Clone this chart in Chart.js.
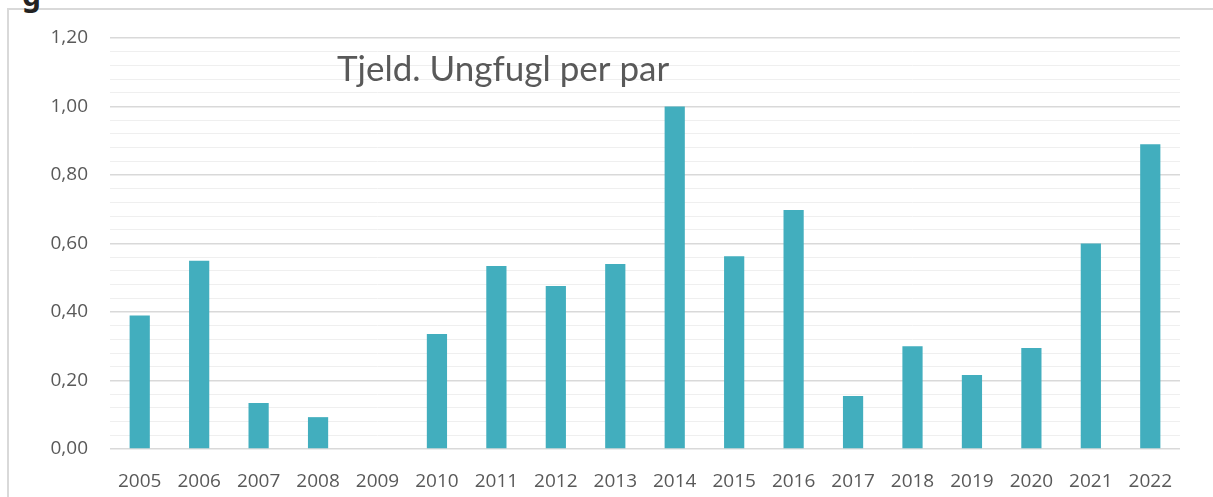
<!DOCTYPE html>
<html>
<head>
<meta charset="utf-8">
<script src="https://cdn.jsdelivr.net/npm/chart.js@4"></script>
<style>
  html, body { margin: 0; padding: 0; background: #fff; }
  #frame { position: absolute; left: 7px; top: 8px; width: 1220px; height: 500px;
           border-left: 2px solid #d9d9d9; border-top: 2px solid #d9d9d9; }
  #cut { position: absolute; left: 22px; top: -26px; font: bold 30px "Noto Sans", sans-serif; color: #222; }
  #wrap { position: absolute; left: 0; top: 0; width: 1213px; height: 497px; }
</style>
</head>
<body>
<div id="frame"></div>
<div id="cut">g</div>
<div id="wrap"><canvas id="myChart"></canvas></div>
<script>
const years = ['2005','2006','2007','2008','2009','2010','2011','2012','2013','2014','2015','2016','2017','2018','2019','2020','2021','2022'];
const ungfugl = [0.39, 0.55, 0.134, 0.093, 0, 0.336, 0.534, 0.476, 0.54, 1.00, 0.563, 0.698, 0.155, 0.30, 0.216, 0.295, 0.60, 0.89];
const chartTitle = 'Tjeld. Ungfugl per par';

function isMajor(v) {
    return Math.round(v * 100) % 20 === 0;
}

const titlePlugin = {
    id: 'innerTitle',
    afterDatasetsDraw(chart) {
        const c = chart.ctx;
        c.save();
        c.font = '35px Lato, "Open Sans", sans-serif';
        c.fillStyle = '#595959';
        c.textBaseline = 'middle';
        c.fillText(chartTitle, 337, 70);
        c.restore();
    }
};

const tickFont = { family: '"Open Sans", sans-serif', size: 19 };

const ctx = document.getElementById('myChart');
new Chart(ctx, {
    type: 'bar',
    data: {
        labels: years,
        datasets: [{
            data: ungfugl,
            backgroundColor: '#42aebe',
            barPercentage: 0.34,
            categoryPercentage: 1
        }]
    },
    plugins: [titlePlugin],
    options: {
        responsive: true,
        maintainAspectRatio: false,
        animation: false,
        layout: { padding: { top: 38, right: 33, left: 0, bottom: 0 } },
        plugins: { legend: { display: false }, tooltip: { enabled: false } },
        scales: {
            x: {
                grid: { display: false, drawTicks: false },
                border: { display: false },
                ticks: { color: '#595959', font: tickFont, padding: 21, maxRotation: 0 },
                afterFit(axis) { axis.height = 48; }
            },
            y: {
                min: 0,
                max: 1.2,
                grid: {
                    drawTicks: false,
                    color: (c) => isMajor(c.tick.value) ? '#d9d9d9' : '#efefef',
                    lineWidth: (c) => isMajor(c.tick.value) ? 1.5 : 1
                },
                border: { display: false },
                ticks: {
                    stepSize: 0.04,
                    autoSkip: false,
                    padding: 22,
                    color: '#595959',
                    font: tickFont,
                    callback: (v) => isMajor(v) ? v.toFixed(2).replace('.', ',') : ''
                },
                afterFit(axis) { axis.width = 110; }
            }
        }
    }
});
</script>
</body>
</html>
